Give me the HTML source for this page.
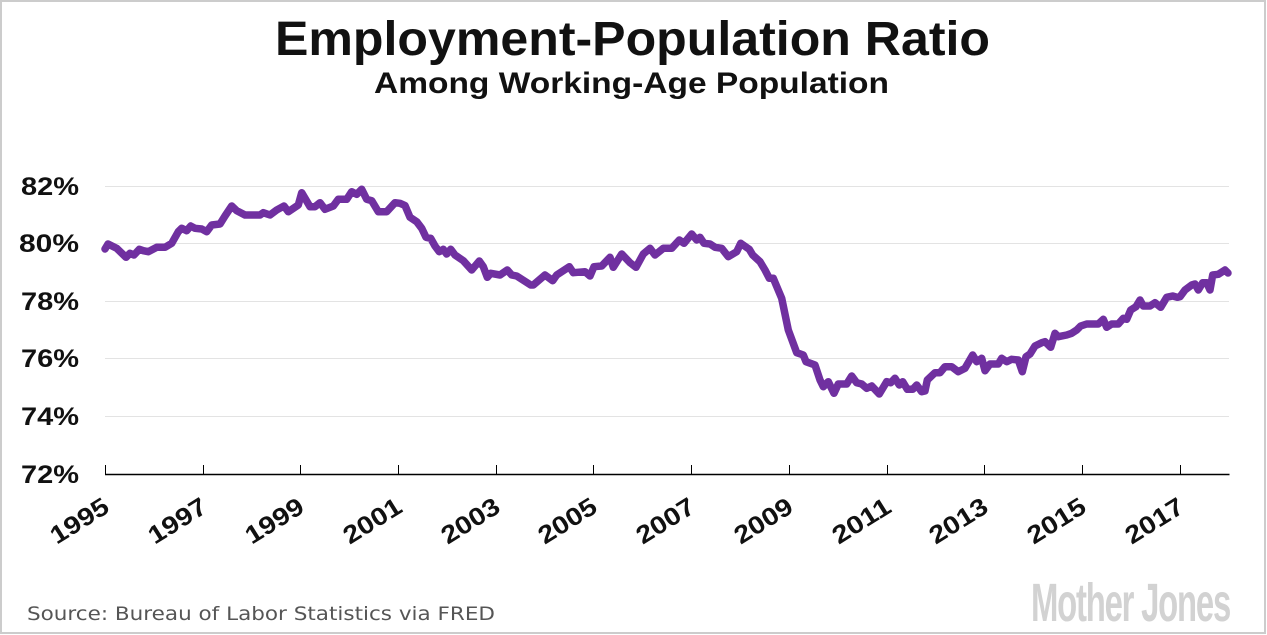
<!DOCTYPE html>
<html>
<head>
<meta charset="utf-8">
<style>
  html, body { margin: 0; padding: 0; background: #ffffff; }
  body { width: 1267px; height: 635px; overflow: hidden; }
  svg { display: block; }
</style>
</head>
<body>
<svg width="1267" height="635" viewBox="0 0 1267 635" xmlns="http://www.w3.org/2000/svg">
  <rect x="0" y="0" width="1267" height="635" fill="#ffffff"/>
  <rect x="1" y="1" width="1264" height="632" fill="none" stroke="#cccccc" stroke-width="2"/>

  <!-- Title -->
  <text x="275" y="55" font-family="'Liberation Sans', sans-serif" font-weight="bold" font-size="48" fill="#111" textLength="715" lengthAdjust="spacingAndGlyphs">Employment-Population Ratio</text>
  <text x="374" y="93" font-family="'Liberation Sans', sans-serif" font-weight="bold" font-size="30" fill="#111" textLength="515" lengthAdjust="spacingAndGlyphs">Among Working-Age Population</text>

  <!-- Gridlines -->
  <g stroke="#e3e3e3" stroke-width="1">
    <line x1="105" y1="186.5" x2="1229" y2="186.5"/>
    <line x1="105" y1="243.5" x2="1229" y2="243.5"/>
    <line x1="105" y1="301.5" x2="1229" y2="301.5"/>
    <line x1="105" y1="358.5" x2="1229" y2="358.5"/>
    <line x1="105" y1="416.5" x2="1229" y2="416.5"/>
  </g>

  <!-- Y labels -->
  <g font-family="'Liberation Sans', sans-serif" font-weight="bold" font-size="25" fill="#111" text-anchor="end">
    <text x="79" y="195" textLength="58" lengthAdjust="spacingAndGlyphs">82%</text>
    <text x="79" y="252" textLength="60" lengthAdjust="spacingAndGlyphs">80%</text>
    <text x="79" y="310" textLength="58" lengthAdjust="spacingAndGlyphs">78%</text>
    <text x="79" y="367" textLength="58" lengthAdjust="spacingAndGlyphs">76%</text>
    <text x="79" y="425" textLength="58" lengthAdjust="spacingAndGlyphs">74%</text>
    <text x="79" y="483" textLength="58" lengthAdjust="spacingAndGlyphs">72%</text>
  </g>

  <!-- X axis -->
  <line x1="105" y1="474.5" x2="1229.5" y2="474.5" stroke="#000" stroke-width="1.5"/>
  <g stroke="#000" stroke-width="1">
    <line x1="105.5" y1="465" x2="105.5" y2="474"/>
    <line x1="203.5" y1="465" x2="203.5" y2="474"/>
    <line x1="300.5" y1="465" x2="300.5" y2="474"/>
    <line x1="398.5" y1="465" x2="398.5" y2="474"/>
    <line x1="496.5" y1="465" x2="496.5" y2="474"/>
    <line x1="593.5" y1="465" x2="593.5" y2="474"/>
    <line x1="691.5" y1="465" x2="691.5" y2="474"/>
    <line x1="789.5" y1="465" x2="789.5" y2="474"/>
    <line x1="887.5" y1="465" x2="887.5" y2="474"/>
    <line x1="984.5" y1="465" x2="984.5" y2="474"/>
    <line x1="1082.5" y1="465" x2="1082.5" y2="474"/>
    <line x1="1180.5" y1="465" x2="1180.5" y2="474"/>
  </g>

  <!-- X labels -->
  <g font-family="'Liberation Sans', sans-serif" font-weight="bold" font-size="25" fill="#111" text-anchor="end">
    <text transform="translate(111,511) rotate(-32)" textLength="64" lengthAdjust="spacingAndGlyphs">1995</text>
    <text transform="translate(209,511) rotate(-32)" textLength="64" lengthAdjust="spacingAndGlyphs">1997</text>
    <text transform="translate(306,511) rotate(-32)" textLength="64" lengthAdjust="spacingAndGlyphs">1999</text>
    <text transform="translate(404,511) rotate(-32)" textLength="64" lengthAdjust="spacingAndGlyphs">2001</text>
    <text transform="translate(502,511) rotate(-32)" textLength="64" lengthAdjust="spacingAndGlyphs">2003</text>
    <text transform="translate(599,511) rotate(-32)" textLength="64" lengthAdjust="spacingAndGlyphs">2005</text>
    <text transform="translate(697,511) rotate(-32)" textLength="64" lengthAdjust="spacingAndGlyphs">2007</text>
    <text transform="translate(795,511) rotate(-32)" textLength="64" lengthAdjust="spacingAndGlyphs">2009</text>
    <text transform="translate(893,511) rotate(-32)" textLength="64" lengthAdjust="spacingAndGlyphs">2011</text>
    <text transform="translate(990,511) rotate(-32)" textLength="64" lengthAdjust="spacingAndGlyphs">2013</text>
    <text transform="translate(1088,511) rotate(-32)" textLength="64" lengthAdjust="spacingAndGlyphs">2015</text>
    <text transform="translate(1186,511) rotate(-32)" textLength="64" lengthAdjust="spacingAndGlyphs">2017</text>
  </g>

  <!-- Data line -->
  <polyline fill="none" stroke="#7030a0" stroke-width="7.5" stroke-linejoin="round" stroke-linecap="round"
    points="105,249 108,244 116.7,248.3 126,257.3 130,253.3 134,255 139.3,249.3 143.3,250.7 148.3,251.7 156.7,247.3 165,247.3 171.7,243.3 178.3,231.7 181.7,228.3 186.7,230.7 190.7,226 195,228.3 201.7,229 206.7,231.7 211.7,225 220,224 225,216 231.7,206 236.7,210.7 245,215 260,215 263.3,212.7 270,215 276.7,210 284,206 288.3,211.7 298.3,205 301.7,192.7 310,206.7 315,206.7 320,202.7 325,209.3 333.3,206 338.3,199.3 346.7,199.3 351.7,191.7 356.7,194.3 361.7,189.3 366.7,199.3 371.7,200.7 378.3,211.7 386.7,211.7 395,202.7 400,203.3 405,205.5 410,217.3 416.7,221.7 421.7,228.3 426,237.3 430.7,238.3 435,246 439.3,251.7 443.3,249.3 446.7,254 450.7,249.3 455,255 463.3,260.7 471.7,270 479.3,261 483.3,266.7 487.3,277.3 490.7,273.3 500,275 507.3,270 511.7,275 516.7,276 530.7,285 533.3,285 545,275 552.7,280.7 556.7,275 569.3,266.7 573.3,272.7 585,271.7 590,276 594,266.7 601.7,266 610,257.3 613.3,267.3 621.7,254 630,262.7 636,267.3 643.3,254 650,248.3 655,255 663.3,248.3 671.7,248.3 679.3,240 684,243.3 691.7,234 696.7,240 700,237.3 704,243.3 710,244 715,247.3 721.7,248.3 728.3,256.7 736.7,251.7 740.7,243.3 749.3,249.3 752.7,255 760,261.7 765,270 769.3,278.3 773.3,278.3 781.7,298.3 788.3,330 796.7,352.7 803.3,355 806,361.7 815,365 820,380 823.3,386.7 828.3,381.7 834,393.3 838.3,384 846.7,384 851.7,376 856.7,382.7 861.7,384 866.7,388.3 871.7,386 879.3,394 886.7,381.7 890.7,382.7 895,378.3 899.3,385 902.7,381.7 907.3,389.3 912.7,389.3 916.7,385 921.7,391.7 925,391 927.3,380 935,372.7 940,372.7 945,366.7 951.7,366.7 958.3,371.7 965,368.3 972.7,355 976.7,361.7 981.7,358.3 985,370.7 990,364 998.3,364 1001.7,358.3 1006.7,361.7 1011.7,359.3 1018.3,360 1022.3,371.7 1026,356.7 1030,354 1035,346 1041.7,342.7 1045,341.7 1050.7,347.3 1055,333.3 1058.3,336.7 1066.7,335 1071.7,333.3 1076.7,330 1080.7,326 1086.7,324 1098.3,324 1103.3,319.3 1106.7,327.3 1111.7,324 1118.3,324 1123.3,318.3 1126.7,319.3 1130.7,310 1136,306.7 1140,300 1143.3,306 1150,306 1155,302.7 1160.7,307.3 1166.7,297.3 1172.7,296 1177.3,297.3 1180,296.7 1185,290 1191.7,285 1195,284 1198.3,290 1202.7,282.7 1206.7,282.7 1210,290 1212.7,275 1218.3,274.3 1225,270 1228,273"/>

  <!-- Footer -->
  <text x="27" y="620" font-family="'DejaVu Sans', 'Liberation Sans', sans-serif" font-size="19" fill="#555555" textLength="468" lengthAdjust="spacingAndGlyphs">Source: Bureau of Labor Statistics via FRED</text>
  <text x="1031" y="621" font-family="'Liberation Sans Narrow', 'Liberation Sans', sans-serif" font-weight="bold" font-size="54" fill="#d2d2d2" textLength="199" lengthAdjust="spacingAndGlyphs" letter-spacing="-2">Mother Jones</text>
</svg>
</body>
</html>
